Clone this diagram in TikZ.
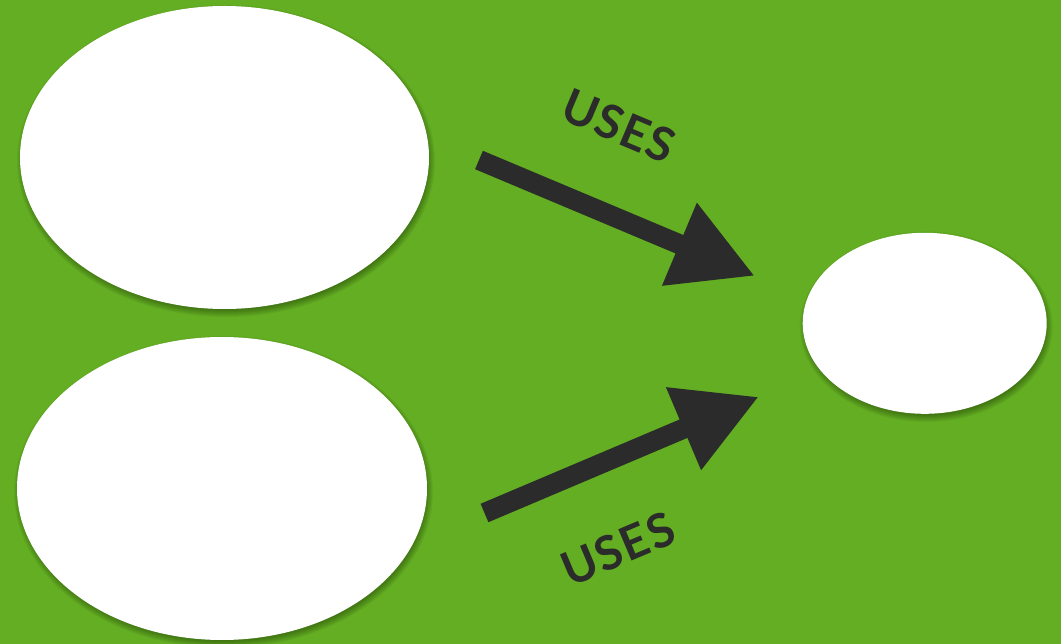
\documentclass[tikz,border=0pt]{standalone}
\usepackage{fontspec}
\newfontfamily\labfont{Lato}[UprightFont={* Bold},LetterSpace=3]
\usetikzlibrary{shapes.geometric,arrows.meta}
\definecolor{bggreen}{HTML}{63AE22}
\definecolor{darkgray}{HTML}{2B2B2B}
\newcommand\softshadow[3]{%
  \foreach \k in {0,...,7}{%
    \fill[black,opacity=0.045] ([shift={(1.5pt,-3.5pt)}]#1) ellipse [x radius=#2+4.5pt-\k pt, y radius=#3+4.5pt-\k pt];
  }%
}
\tikzset{
  blob/.style={ellipse, fill=white, draw=none, inner sep=0pt},
  usesarrow/.style={draw=darkgray, line width=20pt, -{Triangle[length=82pt,width=84pt]}},
  useslabel/.style={text=darkgray, font=\labfont\fontsize{47}{47}\selectfont, inner sep=0pt}
}
\begin{document}
\begin{tikzpicture}[x=1pt,y=1pt]
\fill[bggreen] (0,0) rectangle (1061,-644);
\useasboundingbox (0,0) rectangle (1061,-644);
% shadows
\softshadow{224.5pt,-157.5pt}{204.5pt}{151.5pt}
\softshadow{222pt,-488.5pt}{205pt}{151.5pt}
\softshadow{924.7pt,-323.3pt}{122pt}{90.7pt}
% ellipses
\node[blob, minimum width=409pt, minimum height=303pt] (a) at (224.5,-157.5) {};
\node[blob, minimum width=410pt, minimum height=303pt] (b) at (222,-488.5) {};
\node[blob, minimum width=244pt, minimum height=181pt] (c) at (924.7,-323.3) {};
% arrow end points
\coordinate (s1) at (479,-160);
\coordinate (t1) at (755,-276);
\coordinate (s2) at (484.5,-513);
\coordinate (t2) at (759,-396.7);
\draw[usesarrow] (s1) -- (t1);
\draw[usesarrow] (s2) -- (t2);
% labels
\node[useslabel, rotate=-22.8] (l1) at (619,-126) {USES};
\node[useslabel, rotate=22.9] (l2) at (618,-549) {USES};
\end{tikzpicture}
\end{document}
